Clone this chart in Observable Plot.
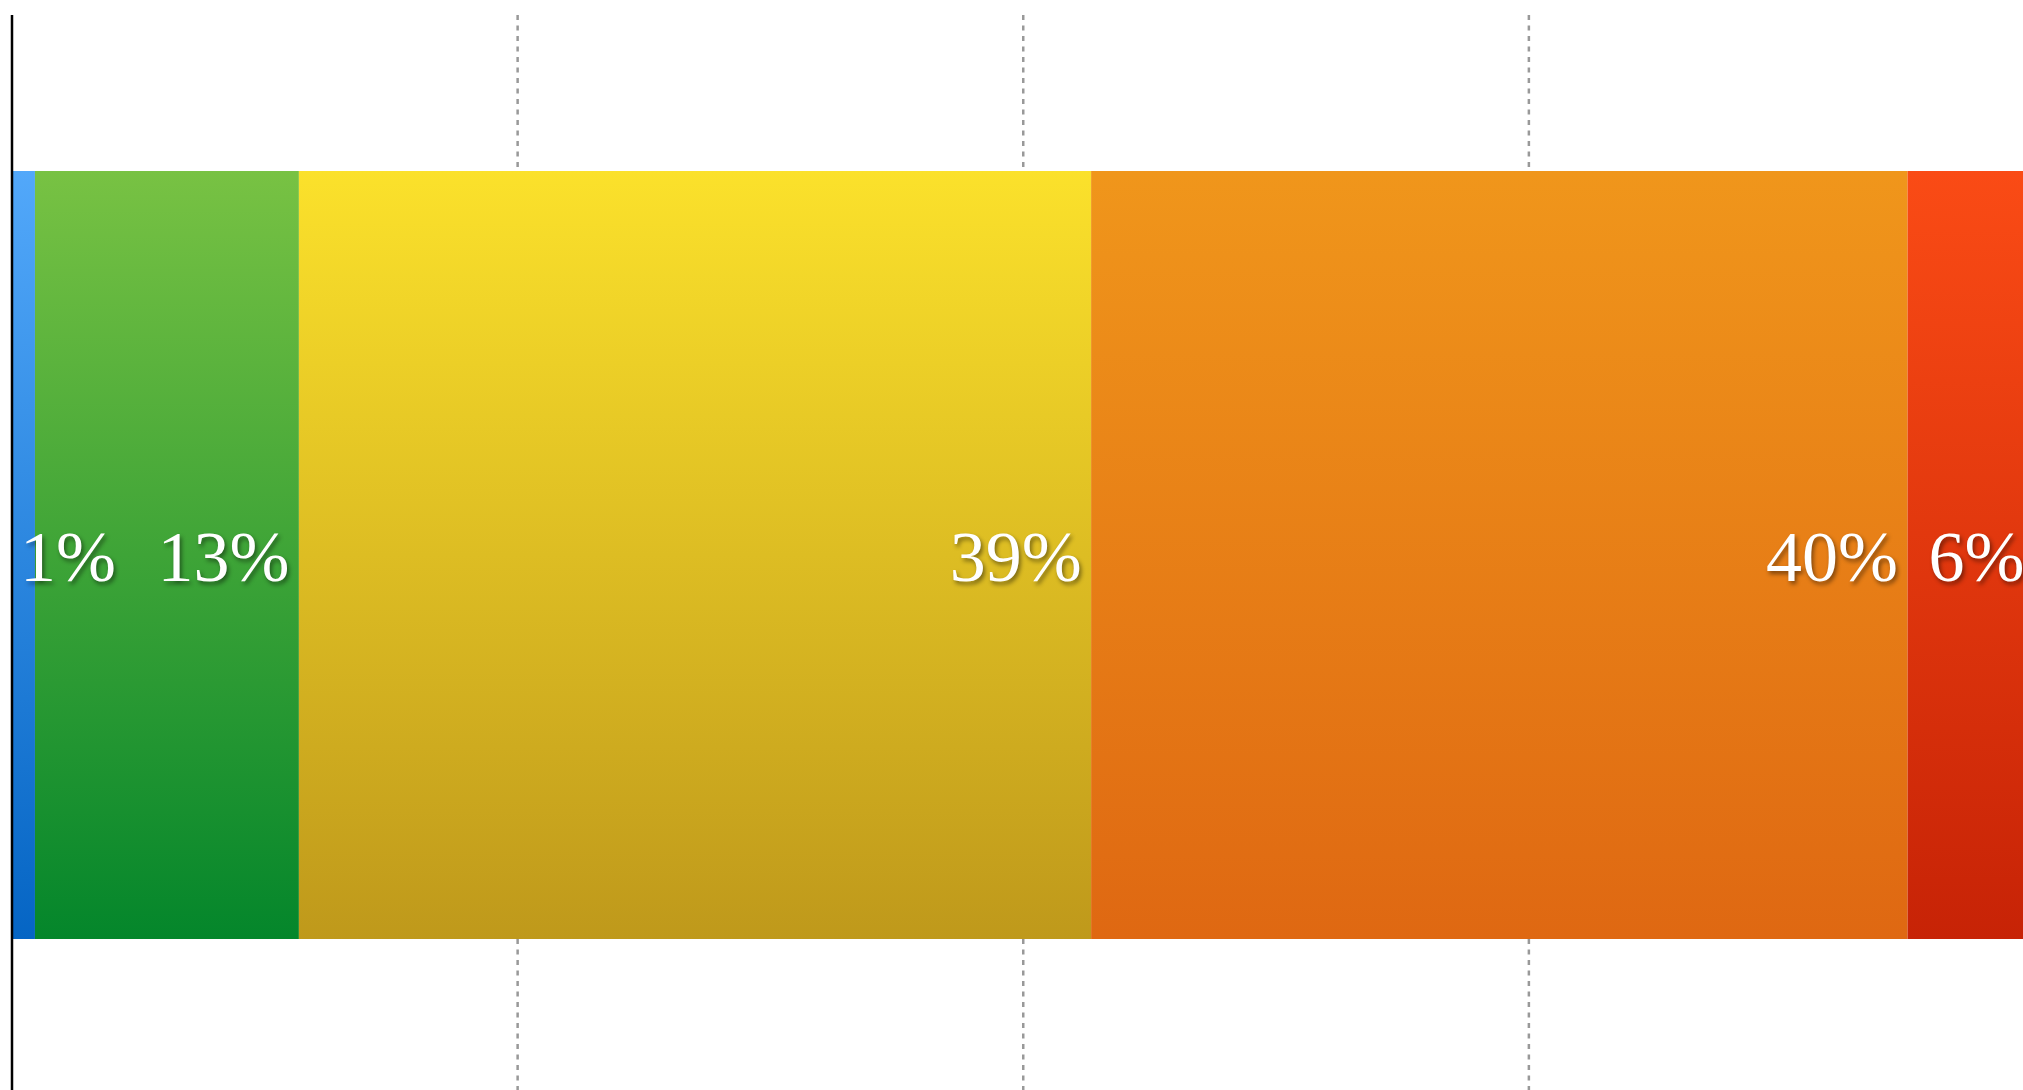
<!DOCTYPE html>
<html><head><meta charset="utf-8">
<script src="https://cdn.jsdelivr.net/npm/d3@7"></script>
<script src="https://cdn.jsdelivr.net/npm/@observablehq/plot@0.6"></script>
<style>html,body{margin:0;padding:0;overflow:hidden;background:#fff}</style>
</head><body><div id="chart"></div>
<script>
const categories = ["Segment 1", "Segment 2", "Segment 3", "Segment 4", "Segment 5"];
const values = [1.16, 13.05, 39.17, 40.37, 6.25];
const labels = ["1%", "13%", "39%", "40%", "6%"];
const topColors = ["#52a8fa", "#78c243", "#fbe12b", "#f0961b", "#fa4b15"];
const bottomColors = ["#0565c4", "#04862b", "#bf991b", "#df6812", "#c72306"];
const gridTicks = [25, 50, 75];

const ends = d3.cumsum(values);
const rows = categories.map((c, i) => ({
  i, category: c, value: values[i], label: labels[i],
  x1: ends[i] - values[i], x2: ends[i]
}));

const svg = Plot.plot({
  width: 2023,
  height: 1090,
  marginLeft: 11.5,
  marginRight: 0,
  marginTop: 15,
  marginBottom: 0,
  x: {domain: [0, 100], range: [11.5, 2034], axis: null},
  y: {domain: ["all"], range: [171, 939], padding: 0, axis: null},
  color: {type: "identity"},
  marks: [
    Plot.gridX(gridTicks, {stroke: "#999999", strokeOpacity: 1, strokeWidth: 2.5, strokeDasharray: "5,5.5"}),
    Plot.barX(rows, {x1: "x1", x2: "x2", y: () => "all", fill: d => `url(#grad${d.i})`, clip: true}),
    Plot.ruleX([0], {stroke: "#000", strokeWidth: 2.5}),
    Plot.text(rows.filter(d => d.value >= 3), {
      x: "x2", y: () => "all", text: "label", textAnchor: "end", dx: -10, dy: 2,
      fill: "white", fontFamily: "Liberation Serif", fontSize: 72, clip: true
    }),
    Plot.text(rows.filter(d => d.value < 3), {
      x: "x1", y: () => "all", text: "label", textAnchor: "start", dx: 8, dy: 2,
      fill: "white", fontFamily: "Liberation Serif", fontSize: 72, clip: true
    })
  ]
});

const defs = d3.select(svg).insert("defs", ":first-child");
rows.forEach(d => {
  const g = defs.append("linearGradient").attr("id", `grad${d.i}`)
    .attr("x1", 0).attr("y1", 0).attr("x2", 0).attr("y2", 1);
  g.append("stop").attr("offset", "0%").attr("stop-color", topColors[d.i]);
  g.append("stop").attr("offset", "100%").attr("stop-color", bottomColors[d.i]);
});
d3.select(svg).selectAll("g[aria-label=text]").style("filter", "drop-shadow(2px 3px 2px rgba(0,0,0,0.45))");

document.getElementById("chart").appendChild(svg);
</script>
</body></html>
